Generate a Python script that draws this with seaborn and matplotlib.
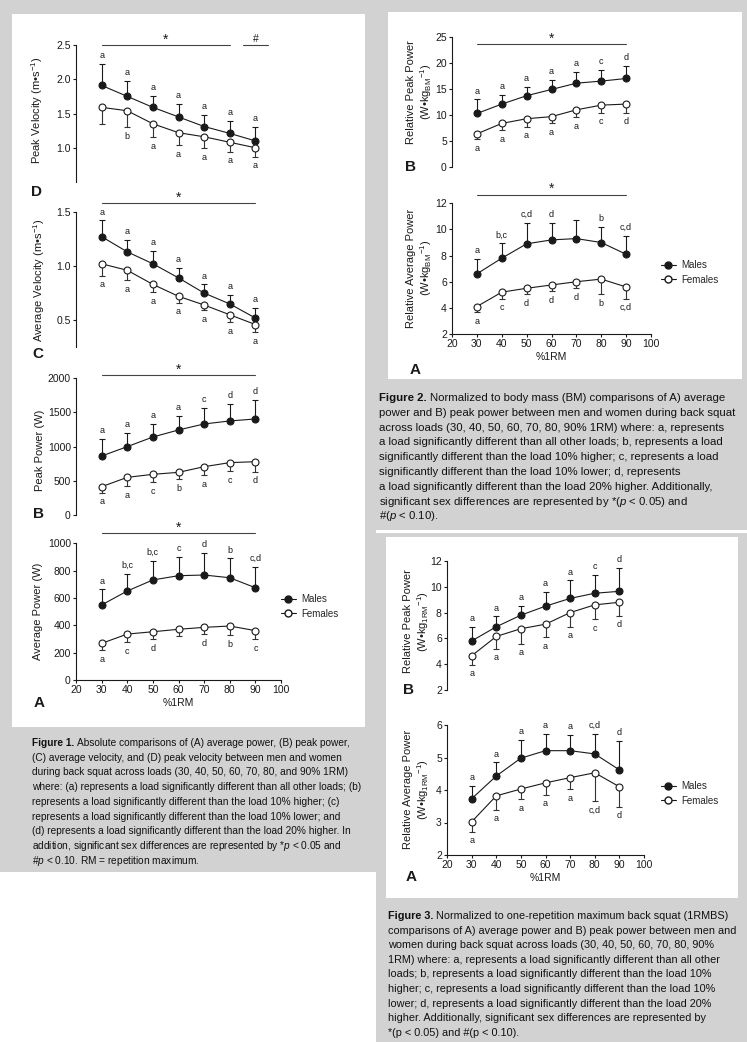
import numpy as np
import pandas as pd
import matplotlib
matplotlib.use("Agg")
import matplotlib.pyplot as plt
import seaborn as sns
from matplotlib.patches import Rectangle
from matplotlib.lines import Line2D

loads = [30, 40, 50, 60, 70, 80, 90]
xticks = [20, 30, 40, 50, 60, 70, 80, 90, 100]

# Figure 1 (absolute values) - means, SD and the letters above/below
pv_m = [1.91, 1.75, 1.59, 1.45, 1.31, 1.21, 1.10]
pv_m_sd = [0.31, 0.23, 0.17, 0.19, 0.17, 0.18, 0.20]
pv_f = [1.59, 1.54, 1.35, 1.22, 1.16, 1.08, 1.00]
pv_f_sd = [0.24, 0.24, 0.20, 0.18, 0.17, 0.14, 0.13]
pv_m_let = ["a", "a", "a", "a", "a", "a", "a"]
pv_f_let = ["", "b", "a", "a", "a", "a", "a"]

av_m = [1.27, 1.13, 1.02, 0.89, 0.75, 0.65, 0.52]
av_m_sd = [0.15, 0.11, 0.12, 0.09, 0.08, 0.08, 0.09]
av_f = [1.02, 0.96, 0.83, 0.72, 0.64, 0.55, 0.46]
av_f_sd = [0.11, 0.09, 0.07, 0.06, 0.05, 0.07, 0.07]
av_m_let = ["a", "a", "a", "a", "a", "a", "a"]
av_f_let = ["a", "a", "a", "a", "a", "a", "a"]

pp_m = [863, 1000, 1141, 1244, 1332, 1376, 1405]
pp_m_sd = [245, 196, 195, 209, 229, 248, 273]
pp_f = [414, 551, 595, 624, 707, 766, 780]
pp_f_sd = [87, 127, 117, 97, 126, 122, 146]
pp_m_let = ["a", "a", "a", "a", "c", "d", "d"]
pp_f_let = ["a", "a", "c", "b", "a", "c", "d"]

ap_m = [549, 651, 732, 763, 768, 748, 675]
ap_m_sd = [114, 124, 141, 139, 159, 142, 154]
ap_f = [268, 336, 353, 371, 385, 395, 361]
ap_f_sd = [49, 60, 55, 49, 49, 68, 63]
ap_m_let = ["a", "b,c", "b,c", "c", "d", "b", "c,d"]
ap_f_let = ["a", "c", "d", "", "d", "b", "c"]

# Figure 2 (relative to body mass)
bm_pp_m = [10.3, 12.1, 13.7, 14.9, 16.1, 16.5, 17.0]
bm_pp_m_sd = [2.7, 1.8, 1.7, 1.8, 2.2, 2.1, 2.4]
bm_pp_f = [6.4, 8.4, 9.3, 9.7, 11.0, 11.9, 12.1]
bm_pp_f_sd = [1.0, 1.3, 1.5, 1.3, 1.4, 1.5, 1.7]
bm_pp_let = ["a", "a", "a", "a", "a", "c", "d"]

bm_ap_m = [6.6, 7.8, 8.9, 9.2, 9.3, 9.0, 8.1]
bm_ap_m_sd = [1.15, 1.15, 1.6, 1.3, 1.4, 1.2, 1.4]
bm_ap_f = [4.1, 5.2, 5.5, 5.75, 6.0, 6.2, 5.6]
bm_ap_f_sd = [0.43, 0.5, 0.46, 0.46, 0.5, 1.15, 0.9]
bm_ap_m_let = ["a", "b,c", "c,d", "d", "", "b", "c,d"]
bm_ap_f_let = ["a", "c", "d", "d", "d", "b", "c,d"]

# Figure 3 (relative to 1RM)
rm_pp_m = [5.8, 6.9, 7.8, 8.5, 9.1, 9.5, 9.65]
rm_pp_m_sd = [1.1, 0.8, 0.75, 1.1, 1.4, 1.4, 1.8]
rm_pp_f = [4.65, 6.15, 6.75, 7.1, 8.0, 8.6, 8.8]
rm_pp_f_sd = [0.7, 0.95, 1.15, 1.0, 1.1, 1.1, 1.05]
rm_pp_let = ["a", "a", "a", "a", "a", "c", "d"]

rm_ap_m = [3.73, 4.43, 4.98, 5.21, 5.21, 5.11, 4.62]
rm_ap_m_sd = [0.4, 0.42, 0.57, 0.52, 0.49, 0.62, 0.88]
rm_ap_f = [3.02, 3.82, 4.03, 4.22, 4.38, 4.53, 4.10]
rm_ap_f_sd = [0.3, 0.42, 0.32, 0.37, 0.36, 0.87, 0.61]
rm_ap_let = ["a", "a", "a", "a", "a", "c,d", "d"]

cap1_head = "Figure 1."
cap1 = [
    "Absolute comparisons of (A) average power, (B) peak power,",
    "(C) average velocity, and (D) peak velocity between men and women",
    "during back squat across loads (30, 40, 50, 60, 70, 80, and 90% 1RM)",
    "where: (a) represents a load significantly different than all other loads; (b)",
    "represents a load significantly different than the load 10% higher; (c)",
    "represents a load significantly different than the load 10% lower; and",
    "(d) represents a load significantly different than the load 20% higher. In",
    r"addition, significant sex differences are represented by *$\mathit{p}$ < 0.05 and",
    r"#$\mathit{p}$ < 0.10. RM = repetition maximum.",
]
cap2_head = "Figure 2."
cap2 = [
    "Normalized to body mass (BM) comparisons of A) average",
    "power and B) peak power between men and women during back squat",
    "across loads (30, 40, 50, 60, 70, 80, 90% 1RM) where: a, represents",
    "a load significantly different than all other loads; b, represents a load",
    "significantly different than the load 10% higher; c, represents a load",
    "significantly different than the load 10% lower; d, represents",
    "a load significantly different than the load 20% higher. Additionally,",
    r"significant sex differences are represented by *($\mathit{p}$ < 0.05) and",
    r"#($\mathit{p}$ < 0.10).",
]
cap3_head = "Figure 3."
cap3 = [
    "Normalized to one-repetition maximum back squat (1RMBS)",
    "comparisons of A) average power and B) peak power between men and",
    "women during back squat across loads (30, 40, 50, 60, 70, 80, 90%",
    "1RM) where: a, represents a load significantly different than all other",
    "loads; b, represents a load significantly different than the load 10%",
    "higher; c, represents a load significantly different than the load 10%",
    "lower; d, represents a load significantly different than the load 20%",
    "higher. Additionally, significant sex differences are represented by",
    "*(p < 0.05) and #(p < 0.10).",
]

sns.set_theme(style="ticks")
plt.rcParams["font.family"] = ["Liberation Sans", "DejaVu Sans"]
plt.rcParams["mathtext.fontset"] = "custom"
plt.rcParams["mathtext.rm"] = "Liberation Sans"
plt.rcParams["mathtext.it"] = "Liberation Sans:italic"
plt.rcParams["mathtext.bf"] = "Liberation Sans:bold"
plt.rcParams["axes.linewidth"] = 0.8

W, H = 747, 1042
INK = "#1a1a1a"
GREY = "#d2d2d2"
fig = plt.figure(figsize=(W / 100, H / 100), dpi=100, facecolor="white")
renderer = fig.canvas.get_renderer()


def fx(x):
    return x / W


def fy(y):
    return 1 - y / H


def rect(x0, y0, x1, y1, color, z):
    fig.add_artist(Rectangle((fx(x0), fy(y1)), (x1 - x0) / W, (y1 - y0) / H,
                             transform=fig.transFigure, facecolor=color,
                             edgecolor="none", zorder=z))


# grey page frames and white plot areas
rect(0, 0, 747, 530, GREY, -3)
rect(0, 530, 376, 872, GREY, -3)
rect(376, 533, 747, 1042, GREY, -3)
rect(12, 14, 365, 727, "white", -2)
rect(388, 12, 742, 379, "white", -2)
rect(386, 537, 738, 898, "white", -2)


def panel(px, ylim, yticks, m, m_sd, f, f_sd, m_let, f_let, xaxis=False):
    x0, x1, y0, y1 = px
    ax = fig.add_axes([fx(x0), fy(y1), (x1 - x0) / W, (y1 - y0) / H])
    ax.set_facecolor("none")
    df = pd.DataFrame({"load": loads * 2, "value": m + f,
                       "sex": ["Males"] * 7 + ["Females"] * 7})
    for sex, face in [("Males", INK), ("Females", "white")]:
        sns.lineplot(data=df[df["sex"] == sex], x="load", y="value", color=INK,
                     linewidth=0.8, marker="o", markersize=5, markerfacecolor=face,
                     markeredgecolor=INK, markeredgewidth=0.8, errorbar=None,
                     legend=False, ax=ax, zorder=3)
    ax.errorbar(loads, m, yerr=[np.zeros(7), m_sd], fmt="none", ecolor=INK,
                elinewidth=0.8, capsize=2.5, capthick=0.8, zorder=2)
    ax.errorbar(loads, f, yerr=[f_sd, np.zeros(7)], fmt="none", ecolor="#333333",
                elinewidth=0.8, capsize=2.5, capthick=0.8, zorder=2)
    for x, v, s, lab in zip(loads, m, m_sd, m_let):
        if lab:
            ax.annotate(lab, (x, v + s), xytext=(0, 6), textcoords="offset points",
                        ha="center", va="center", fontsize=6.5, color=INK)
    for x, v, s, lab in zip(loads, f, f_sd, f_let):
        if lab:
            ax.annotate(lab, (x, v - s), xytext=(0, -6.5), textcoords="offset points",
                        ha="center", va="center", fontsize=6.5, color=INK)
    ax.set_xlim(20, 100)
    ax.set_ylim(*ylim)
    ax.set_yticks(yticks)
    ax.set_xticks(xticks)
    ax.set_xlabel("")
    ax.set_ylabel("")
    ax.tick_params(length=2.5, width=0.8, labelsize=7.5, pad=1.2, colors=INK)
    sns.despine(ax=ax, bottom=not xaxis)
    if xaxis:
        ax.set_xlabel("%1RM", fontsize=7.5, labelpad=2, color=INK)
    else:
        ax.tick_params(axis="x", bottom=False, labelbottom=False)
    for sp in ax.spines.values():
        sp.set_color(INK)
    return ax


def sig(ax, x0, x1, yfrac, mark="*", size=10, lift=1):
    tr = ax.get_xaxis_transform()
    ax.plot([x0, x1], [yfrac, yfrac], transform=tr, color="#444444", lw=0.8,
            clip_on=False)
    ax.annotate(mark, ((x0 + x1) / 2, yfrac), xycoords=tr, xytext=(0, lift),
                textcoords="offset points", ha="center", va="baseline",
                fontsize=size, color=INK)


def legend(ax, x, y):
    handles = [Line2D([], [], color=INK, lw=0.8, marker="o", ms=5, mfc=INK, mec=INK),
               Line2D([], [], color=INK, lw=0.8, marker="o", ms=5, mfc="white", mec=INK)]
    ax.legend(handles, ["Males", "Females"], loc="upper left",
              bbox_to_anchor=(fx(x), fy(y)), bbox_transform=fig.transFigure,
              frameon=False, fontsize=7, handlelength=1.5, handletextpad=0.6,
              labelspacing=0.5, borderpad=0, borderaxespad=0)


def ylab(x, y, s):
    fig.text(fx(x), fy(y), s, rotation=90, ha="center", va="center", fontsize=8,
             multialignment="center", linespacing=1.15, color=INK)


def letter(x, y, s):
    fig.text(fx(x), fy(y), s, ha="center", va="center", fontsize=11,
             weight="bold", color=INK)


def text_width(s, size, weight="normal"):
    t = fig.text(0, 0, s, fontsize=size, weight=weight)
    w = t.get_window_extent(renderer).width
    t.remove()
    return w


def caption(x, y, step, head, lines, right):
    gap = 3
    widths = [text_width(head, 8, "bold") + gap + text_width(lines[0], 8)]
    widths += [text_width(s, 8) for s in lines[1:]]
    size = 8 * (right - x) / max(widths)
    for i, s in enumerate(lines):
        yy = fy(y + i * step + 4)
        if i == 0:
            t = fig.text(fx(x), yy, head, fontsize=size, weight="bold",
                         va="baseline", color="#111111")
            bb = t.get_window_extent(renderer)
            fig.text((bb.x1 + gap) / W, yy, s, fontsize=size, va="baseline",
                     color="#111111")
        else:
            fig.text(fx(x), yy, s, fontsize=size, va="baseline", color="#111111")


# ---- Figure 1 ----
axD = panel((76, 281, 45, 182), (0.5, 2.5), [1.0, 1.5, 2.0, 2.5],
            pv_m, pv_m_sd, pv_f, pv_f_sd, pv_m_let, pv_f_let)
sig(axD, 30, 80, 1.0)
sig(axD, 85, 95, 1.0, "#", size=7.5, lift=2.5)
axC = panel((76, 281, 211.7, 347.3), (0.25, 1.5), [0.5, 1.0, 1.5],
            av_m, av_m_sd, av_f, av_f_sd, av_m_let, av_f_let)
sig(axC, 30, 90, 1.062)
axB = panel((76, 281, 378.3, 515), (0, 2000), [0, 500, 1000, 1500, 2000],
            pp_m, pp_m_sd, pp_f, pp_f_sd, pp_m_let, pp_f_let)
sig(axB, 30, 90, 1.024)
axA = panel((76, 281, 543.3, 680), (0, 1000), [0, 200, 400, 600, 800, 1000],
            ap_m, ap_m_sd, ap_f, ap_f_sd, ap_m_let, ap_f_let, xaxis=True)
sig(axA, 30, 90, 1.075)
legend(axA, 281, 594)
ylab(37, 110, "Peak Velocity (m•s$^{-1}$)")
ylab(39, 280, "Average Velocity (m•s$^{-1}$)")
ylab(40, 450, "Peak Power (W)")
ylab(38, 611, "Average Power (W)")
letter(36, 192, "D")
letter(38, 354, "C")
letter(38, 514, "B")
letter(39, 703, "A")

# ---- Figure 2 ----
ax2B = panel((452, 651, 36.7, 167.3), (0, 25), [0, 5, 10, 15, 20, 25],
             bm_pp_m, bm_pp_m_sd, bm_pp_f, bm_pp_f_sd, bm_pp_let, bm_pp_let)
sig(ax2B, 30, 90, 0.942)
ax2A = panel((452, 651, 203.3, 334), (2, 12), [2, 4, 6, 8, 10, 12],
             bm_ap_m, bm_ap_m_sd, bm_ap_f, bm_ap_f_sd, bm_ap_m_let, bm_ap_f_let,
             xaxis=True)
sig(ax2A, 30, 90, 1.067)
legend(ax2A, 661, 260)
ylab(420, 92, "Relative Peak Power\n(W•kg$_{\\mathrm{BM}}$$^{-1}$)")
ylab(420, 268, "Relative Average Power\n(W•kg$_{\\mathrm{BM}}$$^{-1}$)")
letter(411, 167, "B")
letter(415, 370, "A")

# ---- Figure 3 ----
ax3B = panel((447, 644, 561, 690), (2, 12), [2, 4, 6, 8, 10, 12],
             rm_pp_m, rm_pp_m_sd, rm_pp_f, rm_pp_f_sd, rm_pp_let, rm_pp_let)
ax3A = panel((447, 644, 725, 855), (2, 6), [2, 3, 4, 5, 6],
             rm_ap_m, rm_ap_m_sd, rm_ap_f, rm_ap_f_sd, rm_ap_let, rm_ap_let,
             xaxis=True)
legend(ax3A, 661, 781)
ylab(417, 621, "Relative Peak Power\n(W•kg$_{\\mathrm{1RM}}$$^{-1}$)")
ylab(417, 789, "Relative Average Power\n(W•kg$_{\\mathrm{1RM}}$$^{-1}$)")
letter(408, 690, "B")
letter(411, 877, "A")

# ---- captions ----
caption(32, 742, 14.7, cap1_head, cap1, 363)
caption(379, 397, 14.8, cap2_head, cap2, 737)
caption(388, 915, 14.6, cap3_head, cap3, 737)

fig.savefig("out.png", dpi=100)
